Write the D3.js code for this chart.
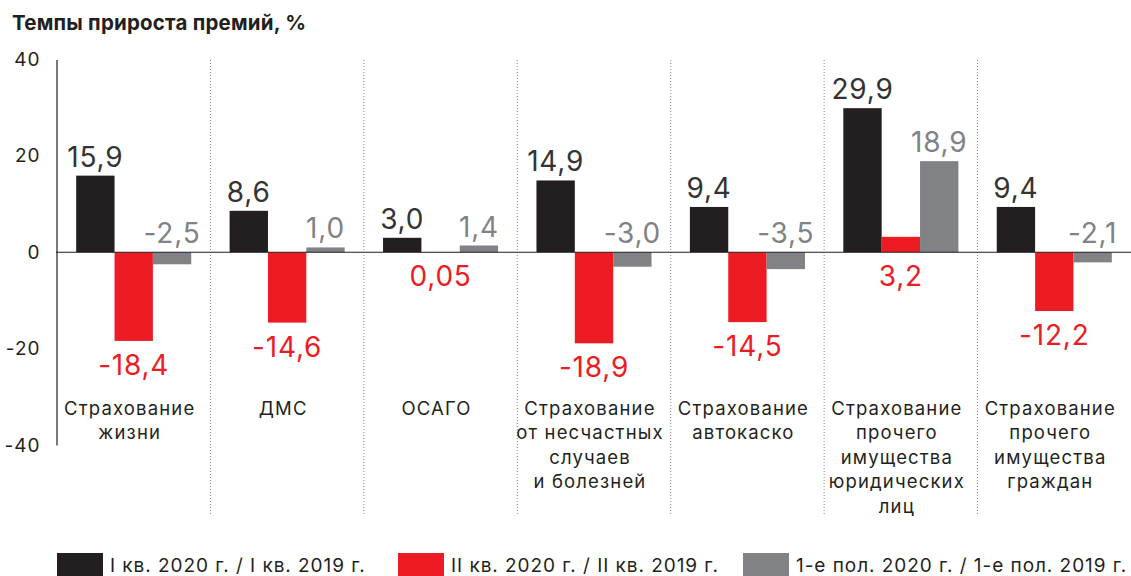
<!DOCTYPE html>
<html><head><meta charset="utf-8">
<script src="https://cdn.jsdelivr.net/npm/d3@7/dist/d3.min.js"></script>
<style>
body{margin:0;background:#fff;}
svg{display:block;font-family:Inter,"Noto Sans",sans-serif;}
</style></head>
<body><svg id="c" width="1131" height="576"></svg>
<script>
const categories = [
  ["Страхование","жизни"],
  ["ДМС"],
  ["ОСАГО"],
  ["Страхование","от несчастных","случаев","и болезней"],
  ["Страхование","автокаско"],
  ["Страхование","прочего","имущества","юридических","лиц"],
  ["Страхование","прочего","имущества","граждан"]
];
const seriesNames = ["I кв. 2020 г. / I кв. 2019 г.","II кв. 2020 г. / II кв. 2019 г.","1-е пол. 2020 г. / 1-е пол. 2019 г."];
const q1 = [15.9, 8.6, 3.0, 14.9, 9.4, 29.9, 9.4];
const q2 = [-18.4, -14.6, 0.05, -18.9, -14.5, 3.2, -12.2];
const h1 = [-2.5, 1.0, 1.4, -3.0, -3.5, 18.9, -2.1];
const q1Labels = ["15,9","8,6","3,0","14,9","9,4","29,9","9,4"];
const q2Labels = ["-18,4","-14,6","0,05","-18,9","-14,5","3,2","-12,2"];
const h1Labels = ["-2,5","1,0","1,4","-3,0","-3,5","18,9","-2,1"];
const yTicks = [40, 20, 0, -20, -40];
const yTickLabels = ["40","20","0","-20","-40"];
const colors = ["#231f20","#ed1c24","#808285"];
const labelColors = ["#333333","#ed1c24","#808285"];

const svg = d3.select("#c");
const x0 = d3.scaleBand().domain(d3.range(categories.length)).range([57,1131]).paddingInner(0).paddingOuter(0);
const inner = 0.125;
const x1 = d3.scaleBand().domain([0,1,2]).range([x0.bandwidth()*inner, x0.bandwidth()*(1-inner)]);
const y = d3.scaleLinear().domain([-40,40]).range([445,59.5]);

// title
svg.append("text").attr("x",12).attr("y",30).attr("font-size",20.5).attr("font-weight",700)
  .attr("letter-spacing",0.2).attr("fill","#231f20").text("Темпы прироста премий, %");

// separators
svg.append("g").selectAll("line").data(d3.range(1,categories.length)).join("line")
  .attr("x1",d=>x0(d)).attr("x2",d=>x0(d)).attr("y1",60).attr("y2",516)
  .attr("stroke","#888").attr("stroke-width",1).attr("stroke-dasharray","1,2");

// y axis
const yAxis = d3.axisLeft(y).tickValues(yTicks).tickSize(0).tickPadding(16)
  .tickFormat((d,i)=>yTickLabels[i]);
const ga = svg.append("g").attr("transform","translate(56.5,0)").call(yAxis);
ga.select(".domain").attr("stroke","#231f20").attr("stroke-width",1.2);
ga.selectAll("text").attr("font-size",19).attr("letter-spacing",1).attr("fill","#231f20")
  .attr("font-family","Inter,'Noto Sans',sans-serif");

const series = [q1,q2,h1];
const labels = [q1Labels,q2Labels,h1Labels];
const groups = svg.append("g").selectAll("g").data(categories).join("g")
  .attr("transform",(d,i)=>`translate(${x0(i)},0)`);

series.forEach((vals,s)=>{
  groups.append("rect")
    .attr("x",x1(s)).attr("width",x1.bandwidth())
    .attr("y",(d,i)=>y(Math.max(0,vals[i])))
    .attr("height",(d,i)=>Math.abs(y(vals[i])-y(0)))
    .attr("fill",colors[s]);
});

// zero line
svg.append("line").attr("x1",56).attr("x2",1131).attr("y1",y(0)).attr("y2",y(0))
  .attr("stroke","#231f20").attr("stroke-width",1.2);

// value labels
series.forEach((vals,s)=>{
  groups.append("text")
    .attr("x",x1(s)+x1.bandwidth()/2)
    .attr("y",(d,i)=>{
      const v = vals[i];
      if (s===1) return y(Math.min(0,v)) + 34;
      return y(Math.max(0,v)) - 9;
    })
    .attr("text-anchor","middle").attr("font-size",28).attr("letter-spacing",0.8).attr("fill",labelColors[s])
    .text((d,i)=>labels[s][i]);
});

// category labels
groups.append("text").attr("text-anchor","middle").attr("font-size",18.5).attr("letter-spacing",1.15)
  .attr("fill","#231f20")
  .each(function(d){
    const t = d3.select(this);
    d.forEach((line,k)=>{
      t.append("tspan").attr("x",x0.bandwidth()/2-4).attr("y",415+k*24.4).text(line);
    });
  });

// legend
const legX = [57,398,743];
const lg = svg.append("g").selectAll("g").data(seriesNames).join("g")
  .attr("transform",(d,i)=>`translate(${legX[i]},0)`);
lg.append("rect").attr("x",0).attr("y",553).attr("width",46).attr("height",23).attr("fill",(d,i)=>colors[i]);
lg.append("text").attr("x",53).attr("y",572).attr("font-size",19).attr("letter-spacing",0.95)
  .attr("fill","#231f20").text(d=>d);
</script></body></html>
